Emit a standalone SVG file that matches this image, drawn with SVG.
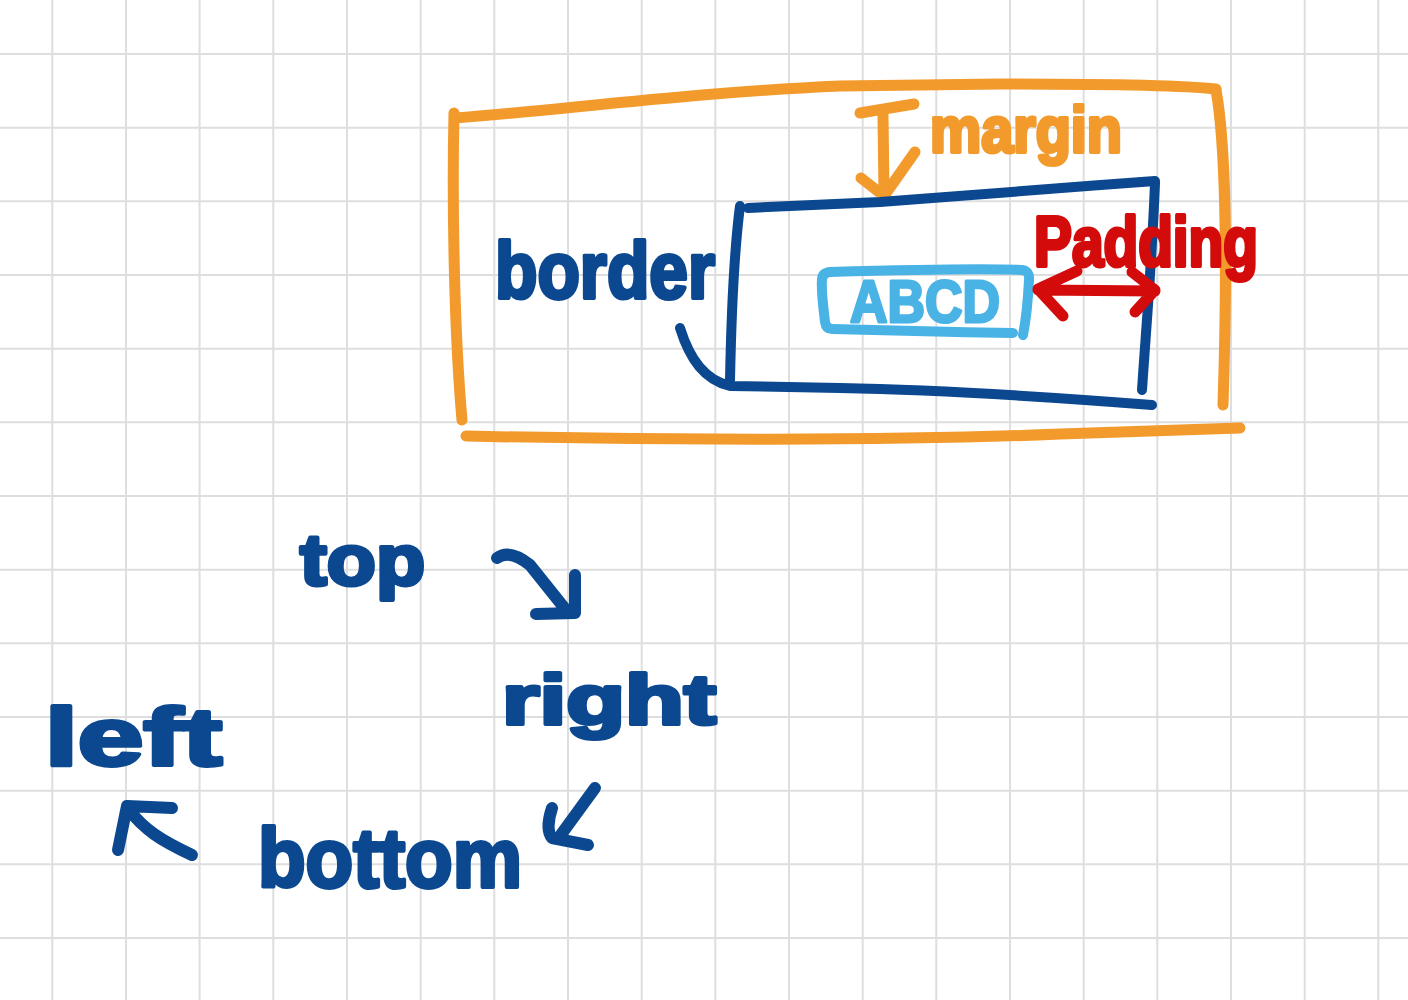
<svg xmlns="http://www.w3.org/2000/svg" width="1408" height="1000" viewBox="0 0 1408 1000">
<style>
.grid{stroke:#dedede;stroke-width:2;fill:none}
.s{fill:none;stroke-linecap:round;stroke-linejoin:round}
.org{stroke:#F29A2C;stroke-width:11}
.blu{stroke:#0B4890;stroke-width:10}
.lbl{stroke:#4AB3E5;stroke-width:10}
.red{stroke:#D30B0B;stroke-width:11}
.arr{stroke:#0B4890;stroke-width:12}
.t{font-family:"Liberation Sans",Arial,sans-serif;font-weight:bold;stroke-linejoin:round;stroke-linecap:round}
.tb{fill:#0B4890;stroke:#0B4890;stroke-width:4}
.to{fill:#F29A2C;stroke:#F29A2C;stroke-width:4}
.tr{fill:#D30B0B;stroke:#D30B0B;stroke-width:4}
.tl{fill:#4AB3E5;stroke:#4AB3E5;stroke-width:3}
</style>
<rect width="1408" height="1000" fill="#ffffff"/>
<g id="grid" class="grid">
<path d="M52.3,0V1000M126,0V1000M199.6,0V1000M273.3,0V1000M347,0V1000M420.7,0V1000M494.3,0V1000M568,0V1000M641.7,0V1000M715.3,0V1000M789,0V1000M862.7,0V1000M936.3,0V1000M1010,0V1000M1083.7,0V1000M1157.3,0V1000M1231,0V1000M1304.7,0V1000M1378.3,0V1000"/>
<path d="M0,54H1408M0,127.7H1408M0,201.3H1408M0,275H1408M0,348.7H1408M0,422.3H1408M0,496H1408M0,569.7H1408M0,643.3H1408M0,717H1408M0,790.7H1408M0,864.3H1408M0,938H1408"/>
</g>
<g id="margin-box" class="s org">
<path d="M454,113 C452,200 454,330 462,420"/>
<path d="M455,118 C560,110 700,92 840,86 L1000,84 C1100,84 1180,85 1216,89"/>
<path d="M1216,90 C1225,140 1228,250 1223,405"/>
<path d="M466,436 C650,440 900,441 1060,434 L1240,428"/>
</g>
<g id="margin-label">
<path class="s org" d="M860,113 L914,104 M883,115 L884,194 M861,178 L884,196 L915,152"/>
<text class="t to" x="930" y="152" font-size="64" textLength="192" lengthAdjust="spacingAndGlyphs">margin</text>
</g>
<g id="border-box" class="s blu">
<path d="M748,208 L880,202 C960,196 1060,188 1155,181"/>
<path d="M740,206 C733,260 731,330 730,380"/>
<path d="M680,328 C690,360 705,380 730,386 L840,388 C950,390 1050,397 1152,405"/>
<path d="M1155,183 C1152,260 1146,330 1142,390"/>
</g>
<g id="border-label">
<text class="t tb" x="495" y="298" font-size="80" textLength="220" lengthAdjust="spacingAndGlyphs">border</text>
</g>
<g id="content">
<path class="s lbl" d="M830,272 C900,270 980,268 1022,270 Q1030,271 1029,280 C1028,300 1026,320 1023,335 M1013,333 C950,332 880,330 832,329 Q826,329 825,322 C823,305 821,290 822,280 Q822,273 830,272"/>
<text class="t tl" x="850" y="322" font-size="60" textLength="150" lengthAdjust="spacingAndGlyphs">ABCD</text>
</g>
<g id="padding-label">
<text class="t tr" x="1034" y="266" font-size="70" textLength="224" lengthAdjust="spacingAndGlyphs">Padding</text>
<path class="s red" d="M1038,290 L1155,291 M1077,271 L1038,289 L1063,316 M1132,272 L1155,290 L1135,312"/>
</g>
<g id="top-label"><text class="t tb" x="300" y="585" font-size="72" textLength="125" lengthAdjust="spacingAndGlyphs">top</text></g>
<g id="right-label"><text class="t tb" x="502" y="724" font-size="70" textLength="214" lengthAdjust="spacingAndGlyphs">right</text></g>
<g id="bottom-label"><text class="t tb" x="258" y="887" font-size="84" textLength="264" lengthAdjust="spacingAndGlyphs">bottom</text></g>
<g id="left-label"><text class="t tb" x="45" y="765" font-size="82" textLength="177" lengthAdjust="spacingAndGlyphs">left</text></g>
<g id="connectors" class="s arr">
<path d="M497,558 C505,552 515,553 530,565 L566,610 M575,575 L575,613 L536,614"/>
<path d="M595,788 L560,836 M552,808 C548,820 547,832 552,838 L588,845"/>
<path d="M172,808 L127,806 L118,850 M128,809 C145,830 160,840 192,855"/>
</g>
</svg>
